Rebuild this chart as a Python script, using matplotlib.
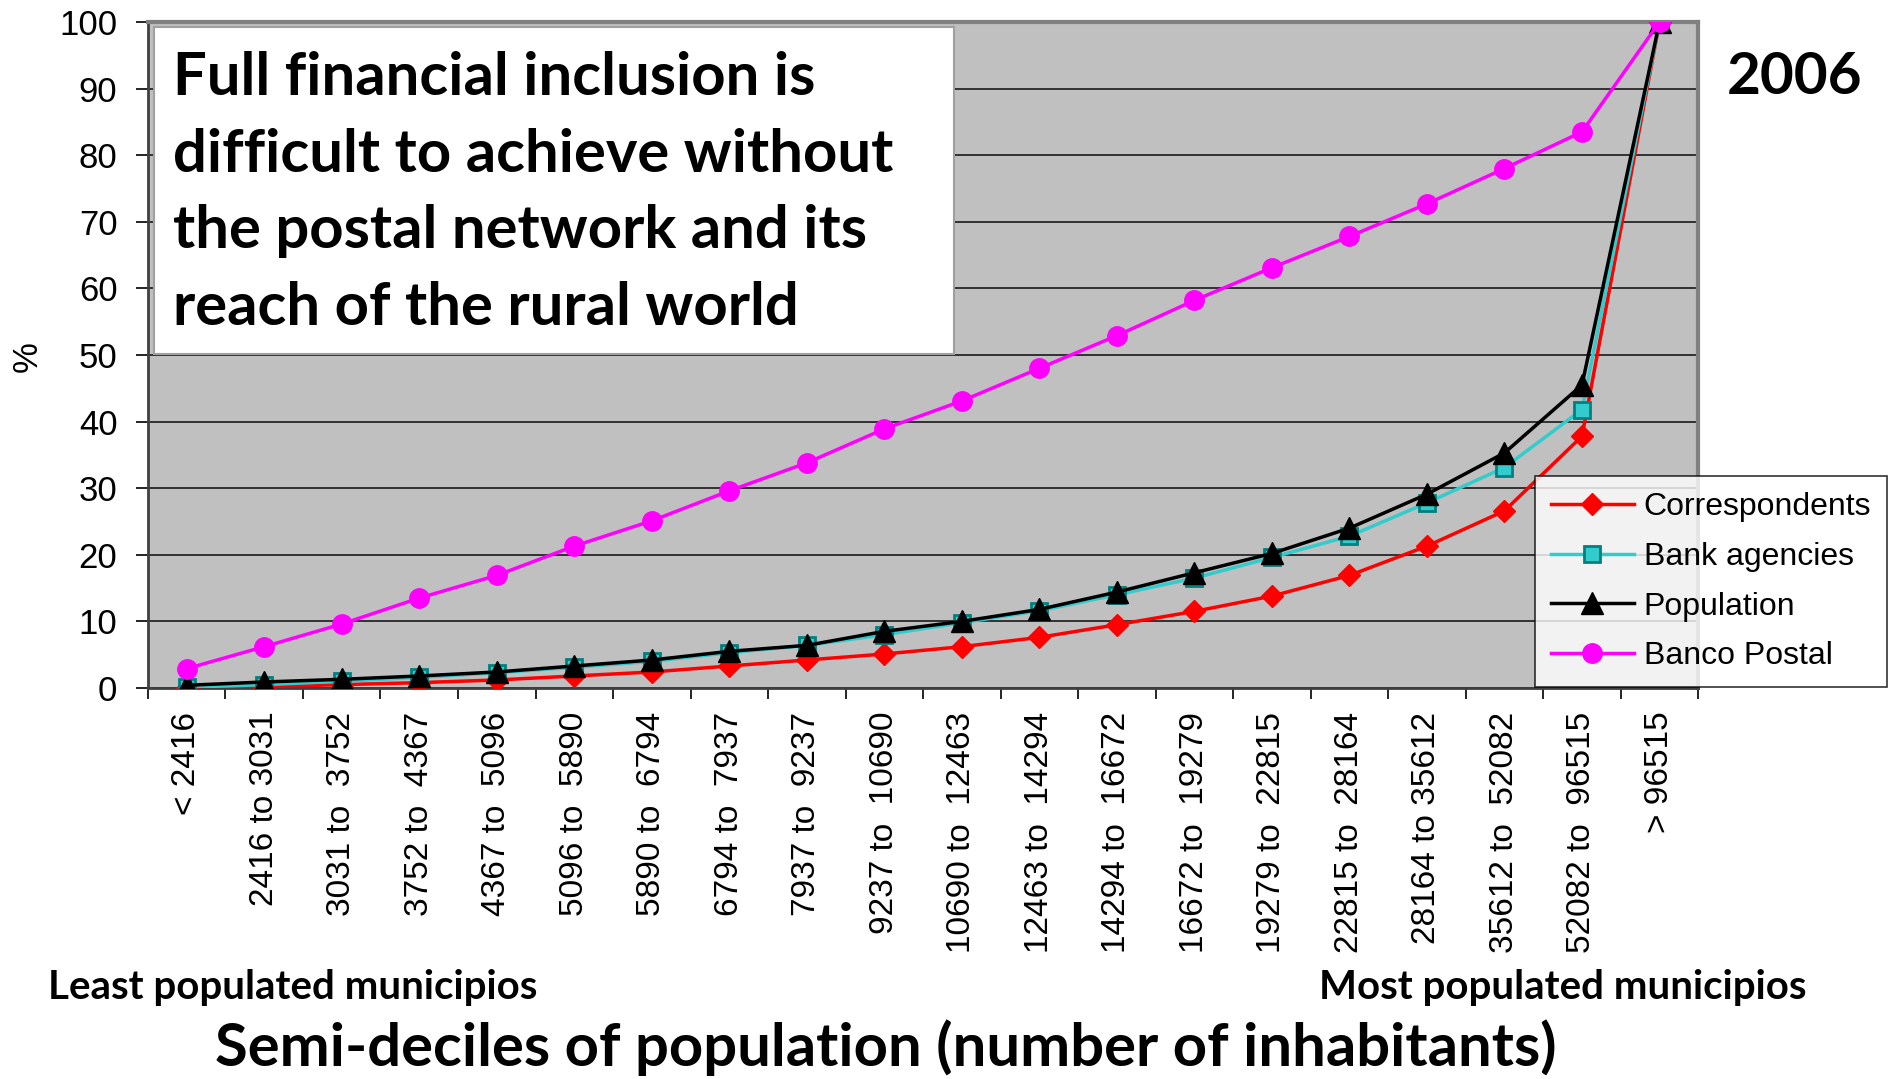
import numpy as np
import matplotlib
matplotlib.use("Agg")
import matplotlib.pyplot as plt
from matplotlib.ticker import FixedLocator, NullFormatter

# semi-deciles of municipios by number of inhabitants
bins = ["< 2416", "2416 to 3031", "3031 to  3752", "3752 to  4367",
        "4367 to  5096", "5096 to  5890", "5890 to  6794", "6794 to  7937",
        "7937 to  9237", "9237 to  10690", "10690 to  12463",
        "12463 to  14294", "14294 to  16672", "16672 to  19279",
        "19279 to  22815", "22815 to  28164", "28164 to 35612",
        "35612 to  52082", "52082 to  96515", "> 96515"]

# cumulative shares (%)
correspondents = [0.0, 0.2, 0.5, 0.8, 1.2, 1.8, 2.4, 3.3, 4.2, 5.1,
                  6.2, 7.6, 9.5, 11.5, 13.8, 16.9, 21.3, 26.6, 37.8, 100]
bank_agencies = [0.1, 0.5, 1.0, 1.6, 2.3, 3.1, 4.0, 5.3, 6.4, 8.0,
                 9.8, 11.6, 14.0, 16.5, 19.6, 22.8, 27.8, 33.1, 41.8, 100]
population = [0.4, 0.9, 1.3, 1.8, 2.4, 3.3, 4.2, 5.5, 6.4, 8.5,
              10.0, 11.8, 14.4, 17.3, 20.2, 24.0, 29.1, 35.3, 45.5, 100]
banco_postal = [2.9, 6.2, 9.6, 13.5, 16.9, 21.3, 25.1, 29.6, 33.8, 38.9,
                43.1, 48.0, 52.9, 58.2, 63.1, 67.8, 72.7, 78.0, 83.5, 100]

ARIAL = "Liberation Sans"
BOLD = "Lato"

fig = plt.figure(figsize=(18.99, 10.79), dpi=100)
ax = fig.add_axes([0.0779, 0.3624, 0.8164, 0.6172])
ax.set_facecolor("#C0C0C0")

x = np.arange(len(bins))
ax.plot(x, correspondents, color="#FF0000", lw=2.5, marker="D", ms=11,
        mfc="#FF0000", mec="#FF0000", label="Correspondents", zorder=3)
ax.plot(x, bank_agencies, color="#33CCCC", lw=2.5, marker="s", ms=12,
        mfc="#33CCCC", mec="#008080", mew=2, label="Bank agencies", zorder=4)
ax.plot(x, population, color="#000000", lw=2.5, marker="^", ms=16,
        mfc="#000000", mec="#000000", label="Population", zorder=5)
ax.plot(x, banco_postal, color="#FF00FF", lw=2.5, marker="o", ms=14,
        mfc="#FF00FF", mec="#FF00FF", label="Banco Postal", zorder=6)

ax.set_xlim(-0.5, len(bins) - 0.5)
ax.set_ylim(0, 100)
ax.set_yticks(np.arange(0, 101, 10))
ax.yaxis.grid(True, color="#1a1a1a", lw=1.2)
ax.set_axisbelow(True)
ax.tick_params(axis="y", direction="out", length=9, width=1.2,
               labelsize=25, pad=13)
for t in ax.get_yticklabels():
    t.set_fontfamily(ARIAL)

ax.set_xticks(x)
ax.set_xticklabels(bins, rotation=90, fontsize=24, fontfamily=ARIAL)
ax.tick_params(axis="x", which="major", length=0, pad=17)
ax.xaxis.set_minor_locator(FixedLocator(np.arange(-0.5, len(bins), 1)))
ax.xaxis.set_minor_formatter(NullFormatter())
ax.tick_params(axis="x", which="minor", direction="out", length=8, width=1.2)

for side in ("top", "right"):
    ax.spines[side].set_color("#808080")
    ax.spines[side].set_linewidth(3)
ax.spines["left"].set_color("#404040")
ax.spines["left"].set_linewidth(2)
ax.spines["bottom"].set_color("#404040")
ax.spines["bottom"].set_linewidth(2)

fig.text(27 / 1899, 1 - 357 / 1079, "%", fontsize=25, fontfamily=ARIAL,
         rotation=90, ha="center", va="center")

leg = ax.legend(loc="upper left", bbox_to_anchor=(1535 / 1899, 1 - 476 / 1079),
                bbox_transform=fig.transFigure, prop={"family": ARIAL, "size": 23},
                frameon=True, fancybox=False, edgecolor="#000000",
                handlelength=2.6, handletextpad=0.3, labelspacing=0.62,
                borderpad=0.5, borderaxespad=0)
leg.get_frame().set_linewidth(1.2)
leg.set_zorder(10)

# white message box over the upper-left of the plot
box = plt.Rectangle((154 / 1899, 1 - 354 / 1079), 800 / 1899, 327 / 1079,
                    transform=fig.transFigure, facecolor="white",
                    edgecolor="#A0A0A0", lw=1.5, zorder=8)
fig.patches.append(box)
msg = ["Full financial inclusion is",
       "difficult to achieve without",
       "the postal network and its",
       "reach of the rural world"]
for i, line in enumerate(msg):
    fig.text(173 / 1899, 1 - (78 + i * 76.5) / 1079, line, fontsize=43,
             fontweight="bold", fontfamily=BOLD, va="center", ha="left",
             zorder=9)

fig.text(1795 / 1899, 1 - 78 / 1079, "2006", fontsize=42, fontweight="bold",
         fontfamily=BOLD, ha="center", va="center")
fig.text(293 / 1899, 1 - 987 / 1079, "Least populated municipios",
         fontsize=29, fontweight="bold", fontfamily=BOLD, ha="center",
         va="center")
fig.text(1563 / 1899, 1 - 987 / 1079, "Most populated municipios",
         fontsize=29, fontweight="bold", fontfamily=BOLD, ha="center",
         va="center")
fig.text(886 / 1899, 1 - 1048 / 1079,
         "Semi-deciles of population (number of inhabitants)",
         fontsize=43, fontweight="bold", fontfamily=BOLD, ha="center",
         va="center")

fig.savefig("out.png", dpi=100, facecolor="white")
